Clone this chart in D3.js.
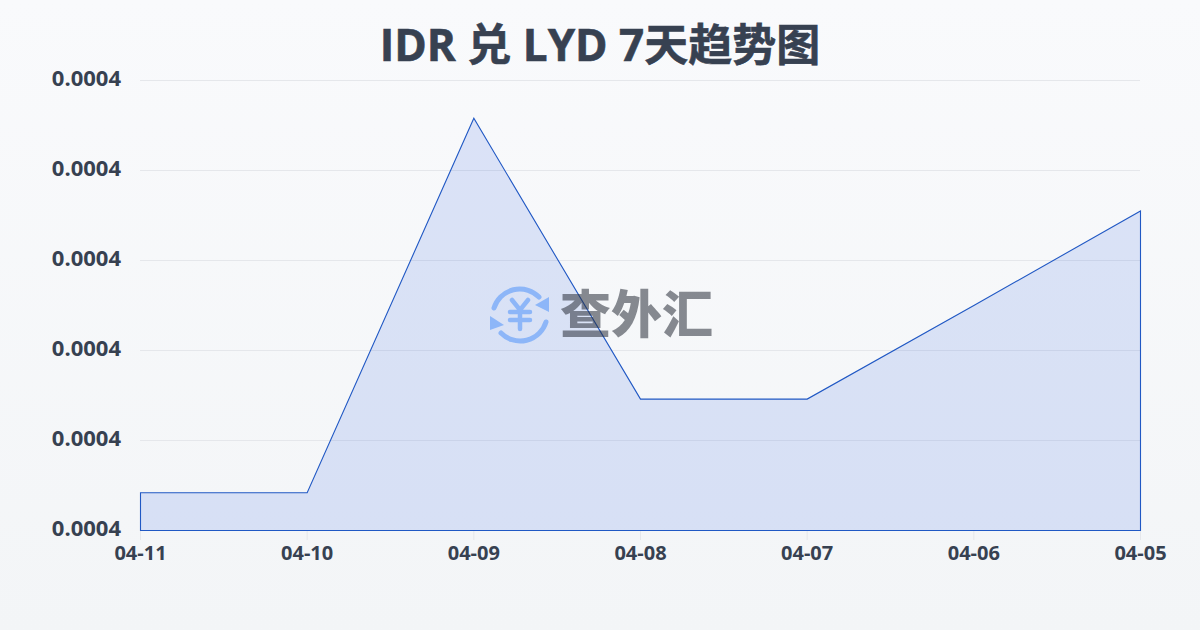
<!DOCTYPE html>
<html><head><meta charset="utf-8">
<script src="https://cdn.jsdelivr.net/npm/d3@7/dist/d3.min.js"></script>
<style>html,body{margin:0;padding:0}svg{display:block}text{font-family:"Open Sans","Noto Sans CJK SC",sans-serif}</style>
</head><body><svg id="c" width="1200" height="630"></svg>
<script>
const titleText = "IDR 兑 LYD 7天趋势图";
const dates = ["04-11","04-10","04-09","04-08","04-07","04-06","04-05"];
const rates = [0.0003642,0.0003642,0.0004058,0.0003746,0.0003746,0.000385,0.0003955];
const yTicks = [0.00036,0.00037,0.00038,0.00039,0.0004,0.00041];
const svg = d3.select("#c");
const defs = svg.append("defs");
const bg = defs.append("linearGradient").attr("id","bg").attr("x1",0).attr("x2",0).attr("y1",0).attr("y2",1);
bg.append("stop").attr("offset",0).attr("stop-color","#f9fafc");
bg.append("stop").attr("offset",1).attr("stop-color","#f3f5f7");
svg.append("rect").attr("width",1200).attr("height",630).attr("fill","url(#bg)");
const x = d3.scalePoint().domain(dates).range([140.5,1140.5]);
const y = d3.scaleLinear().domain([0.00036,0.00041]).range([530.5,80.5]);
const ink = "#374151";
svg.append("text").attr("x",600).attr("y",61).attr("text-anchor","middle")
  .attr("font-size",44).attr("font-weight",700).attr("fill",ink)
  .attr("stroke",ink).attr("stroke-width",0.6).text(titleText);
svg.append("g").selectAll("line").data(yTicks.slice(1)).join("line")
  .attr("x1",140).attr("x2",1140).attr("y1",d=>y(d)).attr("y2",d=>y(d))
  .attr("stroke","#e5e7eb").attr("stroke-width",1);
svg.append("g").selectAll("text").data(yTicks).join("text")
  .attr("x",121).attr("y",d=>y(d)).attr("dy",5.5).attr("text-anchor","end")
  .attr("font-size",22).attr("font-weight",700).attr("fill",ink).text(d=>d.toFixed(4));
svg.append("g").selectAll("line").data(dates).join("line")
  .attr("x1",d=>x(d)).attr("x2",d=>x(d)).attr("y1",530).attr("y2",540)
  .attr("stroke","#e5e7eb");
svg.append("g").selectAll("text").data(dates).join("text")
  .attr("x",d=>x(d)).attr("y",560).attr("text-anchor","middle")
  .attr("font-size",20).attr("font-weight",700).attr("fill",ink).text(d=>d);
const area = d3.area().x((d,i)=>x(dates[i])).y0(y(0.00036)).y1(d=>y(d));
svg.append("path").datum(rates).attr("d",area).attr("fill","#2b5fe0").attr("fill-opacity",0.14)
  .attr("stroke","#2058c4").attr("stroke-width",1.1);
// watermark
const wm = svg.append("g");
const ic = wm.append("g").attr("transform","translate(520,315)").attr("fill","none").attr("stroke","#8db6f8").attr("stroke-linecap","round");
ic.append("path").attr("d","M-26,-7 A27,27 0 0 1 19,-18").attr("stroke-width",5);
ic.append("path").attr("d","M26,7 A27,27 0 0 1 -19,18").attr("stroke-width",5);
ic.append("path").attr("d","M29,-18 L29,-3 L15,-10 Z").attr("fill","#8db6f8").attr("stroke","none");
ic.append("path").attr("d","M-30,15 L-30,1 L-16,10 Z").attr("fill","#8db6f8").attr("stroke","none");
ic.append("path").attr("d","M-8,-15 L0,-5 L8,-15 M-10,-3 H10 M-10,5 H10 M0,-4 V14").attr("stroke-width",4.5);
wm.append("text").attr("x",560).attr("y",333).attr("font-size",51).attr("font-weight",900)
  .style("font-family",'"Noto Sans CJK SC"').attr("fill","#2a2f3a").attr("opacity",0.55).text("查外汇");
</script></body></html>
